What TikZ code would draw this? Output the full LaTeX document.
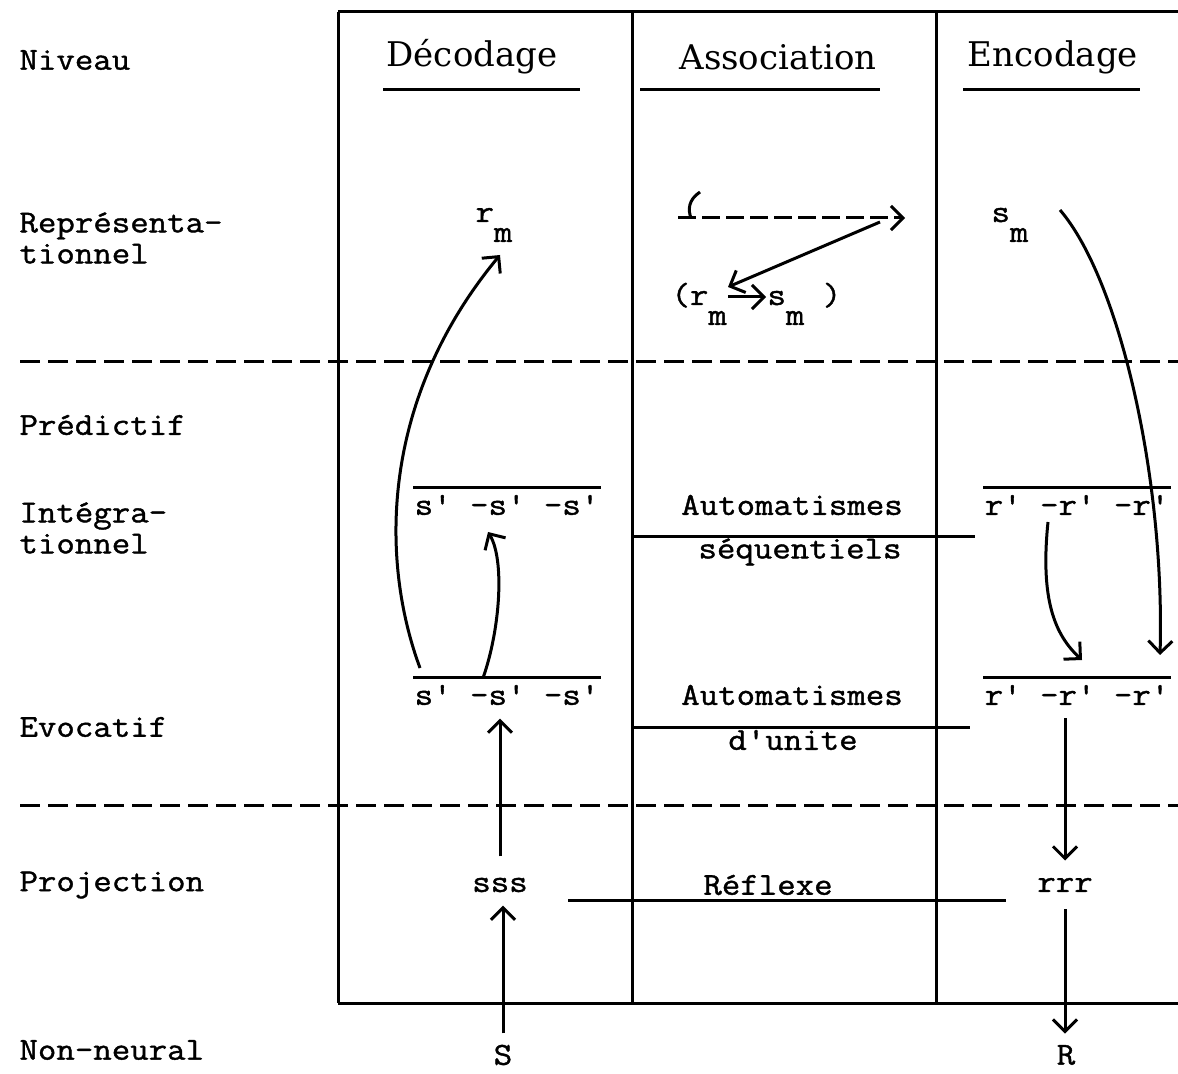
\documentclass[tikz,border=0pt]{standalone}
\usepackage{fontspec}
\setmonofont[FakeStretch=1.12, FakeBold=1.2]{Latin Modern Mono}
\newfontfamily\headfont{DejaVu Serif}
\usetikzlibrary{arrows.meta}

\begin{document}
\begin{tikzpicture}[x=0.5pt, y=-0.5pt, line width=1.5pt,
  lbl/.style={font=\ttfamily\fontsize{16}{15.5}\selectfont, inner sep=0pt},
  lvl/.style={lbl, anchor=west, align=left},
  head/.style={font=\headfont\fontsize{17}{20}\selectfont, inner sep=0pt},
  arr/.style={-{Straight Barb[length=6pt,width=12pt]}},
  tirets/.style={dash pattern=on 10pt off 4pt}]
  \useasboundingbox (0,0) rectangle (1178,1074);

  % cadre et colonnes
  \draw (338,12) -- (1178,12);
  \draw (338,1003) -- (1178,1003);
  \draw (338,12) -- (338,1003);
  \draw (632,12) -- (632,1003);
  \draw (936,12) -- (936,1003);
  \draw[tirets] (20,362) -- (1178,362);
  \draw[tirets] (20,805) -- (1178,805);

  % niveaux
  \node[lvl] (niv)  at (18,60)   {Niveau};
  \node[lvl] (rep)  at (18,238)  {Représenta-\\tionnel};
  \node[lvl] (pred) at (18,425)  {Prédictif};
  \node[lvl] (integ) at (18,528) {Intégra-\\tionnel};
  \node[lvl] (evoc) at (18,727)  {Evocatif};
  \node[lvl] (proj) at (18,885)  {Projection};
  \node[lvl] (nonn) at (18,1050) {Non-neural};

  % en-tetes
  \node[head] (hdec) at (472,57)  {Décodage};
  \node[head] (hass) at (778,57)  {Association};
  \node[head] (henc) at (1053,57) {Encodage};
  \draw (383,90) -- (580,90);
  \draw (640,90) -- (880,90);
  \draw (963,90) -- (1140,90);

  % representationnel
  \node[lbl, anchor=base west] (rmD) at (474,222) {r\raisebox{-10pt}{m}};
  \node[lbl, anchor=base west] (smE) at (990,222) {s\raisebox{-10pt}{m}};
  \coordinate (dA) at (678,218);
  \coordinate (dB) at (905,218);
  \draw[arr, dash pattern=on 9pt off 3pt] (dA) -- (dB);
  \draw (700,192) .. controls (688,200) and (688,210) .. (691,218);
  \coordinate (aS) at (880,222);
  \coordinate (aE) at (728,287);
  \draw[arr] (aS) -- (aE);
  \node[lbl, anchor=base west] (rmA) at (670,305) {(r\raisebox{-10pt}{m}};
  \node[lbl, anchor=base west] (smA) at (766,305) {s\raisebox{-10pt}{m}\ )};
  \draw[arr] ([yshift=4pt]rmA.base east) -- ([yshift=4pt]smA.base west);

  % integrationnel
  \node[lbl] (sD1) at (507,505) {s' -s' -s'};
  \node[lbl] (rE1) at (1077,505) {r' -r' -r'};
  \draw ([yshift=3pt]sD1.north west) -- ([yshift=3pt]sD1.north east);
  \draw ([yshift=3pt]rE1.north west) -- ([yshift=3pt]rE1.north east);
  \node[lbl] (autS) at (792,505) {Automatismes};
  \node[lbl] (seq)  at (800,552) {séquentiels};
  \draw (632,537) -- (975,537);

  % evocatif
  \node[lbl] (sD2) at (507,695) {s' -s' -s'};
  \node[lbl] (rE2) at (1077,695) {r' -r' -r'};
  \draw ([yshift=3pt]sD2.north west) -- ([yshift=3pt]sD2.north east);
  \draw ([yshift=3pt]rE2.north west) -- ([yshift=3pt]rE2.north east);
  \node[lbl] (autU) at (792,695) {Automatismes};
  \node[lbl] (unit) at (793,740) {d'unite};
  \draw (632,727) -- (970,727);

  % projection et non-neural
  \node[lbl] (sss) at (500,885)  {sss};
  \node[lbl] (refl) at (768,885) {Réflexe};
  \node[lbl] (rrr) at (1065,885) {rrr};
  \draw (568,900) -- (1006,900);
  \node[lbl] (S) at (503,1055) {S};
  \node[lbl] (R) at (1066,1055) {R};

  % fleches
  \draw[arr] ([yshift=5pt]S.north) -- ([yshift=-6pt]S.north |- sss.south);
  \draw[arr] ([yshift=10pt]sss.north) -- ([yshift=-6pt]sss.north |- sD2.south);
  \draw[arr] ([yshift=-6pt]rrr.north |- rE2.south) -- ([yshift=8pt]rrr.north);
  \draw[arr] ([yshift=-8pt]rrr.south) -- ([yshift=5pt]rrr.south |- R.north);
  \draw[arr] (420,668) .. controls (380,560) and (380,400) .. (500,255);
  \draw[arr] (483,678) .. controls (500,630) and (505,560) .. (488,532);
  \draw[arr] (1060,210) .. controls (1120,280) and (1165,480) .. (1160,655);
  \draw[arr] (1048,522) .. controls (1040,600) and (1055,635) .. (1082,660);
\end{tikzpicture}
\end{document}
